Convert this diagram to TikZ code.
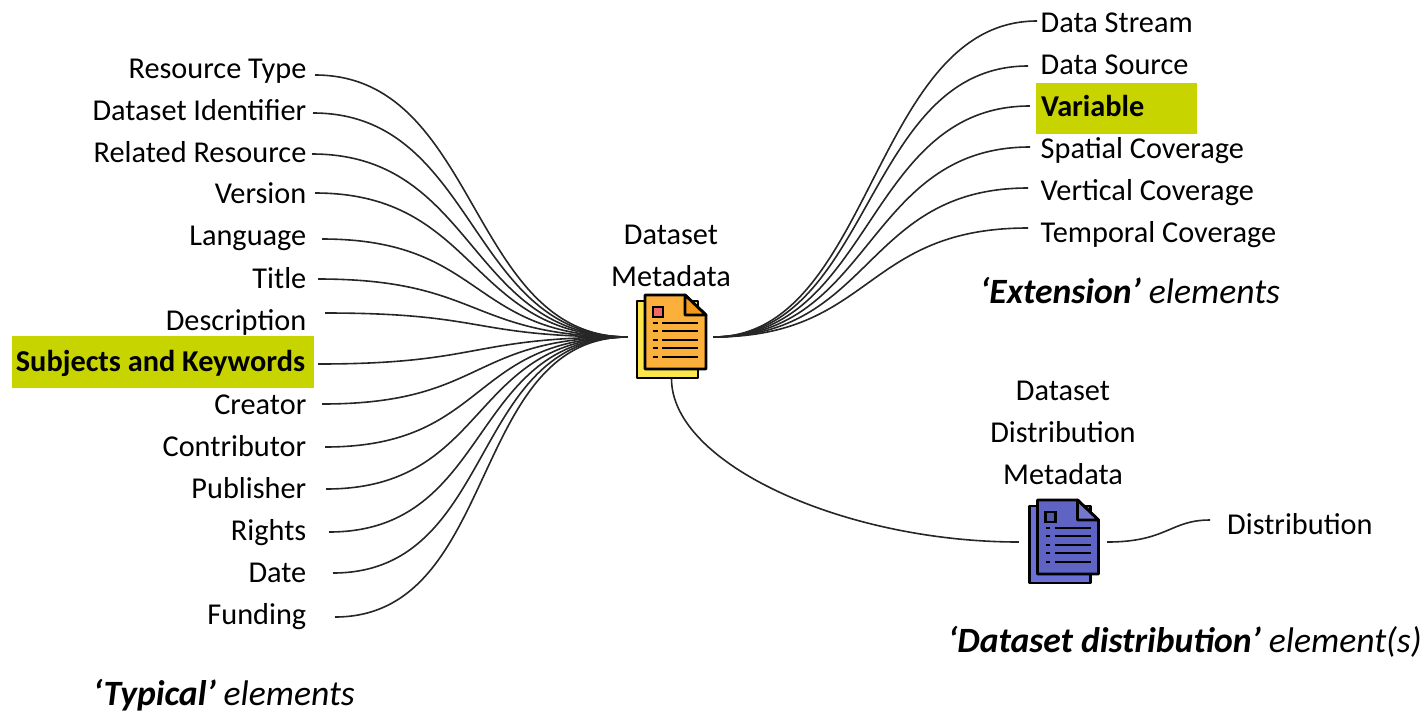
\documentclass[tikz,border=0pt]{standalone}
\usepackage{fontspec}
\setmainfont{Carlito}
\definecolor{hl}{HTML}{C8D400}
\definecolor{orpage}{HTML}{FBB03B}
\definecolor{orfold}{HTML}{F49A1A}
\definecolor{yback}{HTML}{FBE64B}
\definecolor{redsq}{HTML}{EE6A6A}
\definecolor{blpage}{HTML}{5F63C4}
\definecolor{blback}{HTML}{6A70D8}
\definecolor{blfold}{HTML}{7478C8}
\definecolor{blsq}{HTML}{5258A8}
\tikzset{
 x=1pt,y=-1pt,
 lab/.style={font=\fontsize{30.3}{30.3}\selectfont,inner sep=0pt,text height=26pt,text depth=6pt},
 lleft/.style={lab,anchor=east},
 lright/.style={lab,anchor=west},
 titlelab/.style={font=\fontsize{30.3}{42}\selectfont,inner sep=0pt,align=center},
 captionlab/.style={font=\fontsize{35.6}{35.6}\selectfont,inner sep=0pt,anchor=west,text height=27pt,text depth=7pt},
 conn/.style={draw=black!85,line width=1.6pt},
 iconbox/.style={minimum width=#1,minimum height=85pt,inner sep=0pt},
 pics/docicon/.style n args={4}{code={
  \draw[line width=2.8pt,fill=#2,line join=round] (-33.5,-36) rectangle (27.5,41);
  \draw[line width=2.8pt,fill=#1,line join=round] (-25.5,-42) -- (14.5,-42) -- (35.5,-22) -- (35.5,32) -- (-25.5,32) -- cycle;
  \draw[line width=2.8pt,fill=#3,line join=round] (14.5,-42) -- (14.5,-22) -- (35.5,-22) -- cycle;
  \draw[line width=2.8pt,fill=#4] (-17.5,-30) rectangle (-7.5,-20);
  \foreach \ly in {-14,-6,3,11,20}{
   \draw[line width=2.8pt] (-17.5,\ly) -- (-13,\ly) (-8.5,\ly) -- (27.5,\ly);
  }
 }}
}
\begin{document}
\begin{tikzpicture}
\useasboundingbox (0,0) rectangle (1423,713);
% document icons
\node[iconbox=85pt] (doc) at (670.5,337) {};
\node[iconbox=88pt] (dist) at (1063,542) {};
\path (670.5,337) pic {docicon={orpage}{yback}{orfold}{redsq}};
\path (1063,542) pic {docicon={blpage}{blback}{blfold}{blsq}};
% titles
\node[titlelab] (t1) at (671,256) {Dataset\\Metadata};
\node[titlelab] (t2) at (1063,433) {Dataset\\Distribution\\Metadata};
% left labels and connectors
\foreach \n/\txt/\ty/\dx/\dy in {
 a/Resource Type/68/8.5/7,
 b/Dataset Identifier/110/6.5/3,
 c/Related Resource/152/5.5/2,
 d/Version/193/8.5/0,
 e/Language/235/15.5/4,
 f/Title/278/11.5/1,
 g/Description/320/18.5/-7,
 i/Creator/404/15.5/0,
 j/Contributor/446/18.5/1,
 k/Publisher/488/19.5/1,
 l/Rights/530/22.5/2,
 m/Date/572/26.5/1,
 n/Funding/614/28.5/3}{
 \node[lleft] (\n) at (306.5,\ty) {\txt};
 \draw[conn] ([xshift=\dx pt,yshift=-\dy pt]\n.east) .. controls +(165,0) and +(-160,0) .. (doc.west);
}
\node[lab,fill=hl,minimum width=302pt,minimum height=52pt,text height=24pt,font=\fontsize{30.3}{30.3}\bfseries\selectfont] (h) at (163,362) {\hspace*{-5pt}Subjects and Keywords};
\draw[conn] ([xshift=4pt,yshift=-2pt]h.east) .. controls +(165,0) and +(-160,0) .. (doc.west);
% right labels and connectors
\foreach \n/\txt/\ty/\dx/\dy in {
 p/Data Stream/22/-3.5/-1,
 q/Data Source/64/-12.5/2,
 s/Spatial Coverage/148/-10.5/-1,
 u/Vertical Coverage/190/-12.5/-2,
 v/Temporal Coverage/232/-12.5/-4}{
 \node[lright] (\n) at (1040.5,\ty) {\txt};
 \draw[conn] (doc.east) .. controls +(160,0) and +(-165,0) .. ([xshift=\dx pt,yshift=-\dy pt]\n.west);
}
\node[lab,fill=hl,text height=21pt,minimum width=161pt,minimum height=51pt,text width=151pt,align=left,font=\fontsize{30.3}{30.3}\bfseries\selectfont] (r) at (1116.5,108.5) {Variable};
\draw[conn] (doc.east) .. controls +(160,0) and +(-165,0) .. ([xshift=-6pt,yshift=2.5pt]r.west);
% doc to distribution
\node[lright] (w) at (1227,524) {Distribution};
\draw[conn] ([xshift=1pt,yshift=1pt]doc.south) .. controls +(0,85) and +(-175,0) .. (dist.west);
\draw[conn] (dist.east) .. controls +(60,0) and +(-40,0) .. ([xshift=-17pt,yshift=4pt]w.west);
% captions
\node[captionlab] (c1) at (93,695.5) {\textbf{\textit{‘Typical’}} \textit{elements}};
\node[captionlab] (c2) at (980,293) {\textbf{\textit{‘Extension’}} \textit{elements}};
\node[captionlab] (c3) at (948,642) {\textbf{\textit{‘Dataset distribution’}} \textit{element(s)}};
\end{tikzpicture}
\end{document}
